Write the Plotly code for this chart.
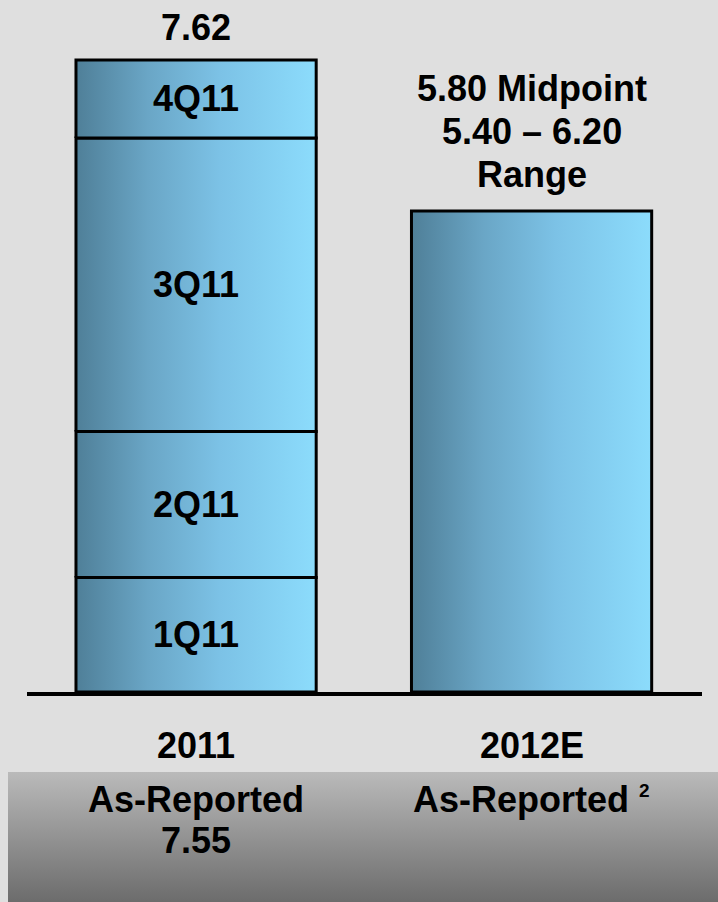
import plotly.graph_objects as go

# --- data -------------------------------------------------------------
categories = ["2011", "2012E"]
quarters = ["1Q11", "2Q11", "3Q11", "4Q11"]
quarter_values = [1.38, 1.76, 3.54, 0.94]          # stacks to 7.62
total_2011 = 7.62
midpoint_2012 = 5.80
range_2012 = [5.40, 6.20]
as_reported_2011 = 7.55

# --- styling ----------------------------------------------------------
FONT = "Liberation Sans, Arial, Helvetica, sans-serif"
BG = "#dfdfdf"
BAR_SCALE = [[0.0, "#4f7f98"], [0.3, "#6aa6c6"], [0.6, "#7cc2e6"], [1.0, "#8cdcfc"]]
BAND_SCALE = [[0.0, "#6c6c6c"], [1.0, "#bababa"]]
HALF_W = 0.358
TXT = dict(family=FONT, size=36, color="black", weight="bold")

fig = go.Figure()


def add_block(x_center, bottom, top):
    xs = [x_center - HALF_W, x_center + HALF_W, x_center + HALF_W,
          x_center - HALF_W, x_center - HALF_W]
    ys = [bottom, bottom, top, top, bottom]
    fig.add_trace(go.Scatter(
        x=xs, y=ys, mode="lines", fill="toself",
        fillgradient=dict(type="horizontal", colorscale=BAR_SCALE),
        line=dict(color="black", width=3),
        hoverinfo="skip", showlegend=False, xaxis="x", yaxis="y",
    ))


def label(x, y, text, xref="x", yref="y", yanchor="middle", yshift=0):
    fig.add_annotation(x=x, y=y, xref=xref, yref=yref, text=text,
                       showarrow=False, font=TXT, yanchor=yanchor, yshift=yshift)


# 2011: stacked quarterly blocks
base = 0.0
for name, val in zip(quarters, quarter_values):
    add_block(0, base, base + val)
    label(0, base + val / 2, name)
    base += val

# 2012E: single guidance bar at the midpoint
add_block(1, 0, midpoint_2012)

# value labels above the bars
label(0, total_2011, f"{total_2011:.2f}", yanchor="bottom", yshift=10)
guide_lines = [f"{midpoint_2012:.2f} Midpoint",
               f"{range_2012[0]:.2f} \u2013 {range_2012[1]:.2f}",
               "Range"]
for i, line in enumerate(reversed(guide_lines)):
    label(1, midpoint_2012, line, yanchor="bottom", yshift=14 + 43 * i)

# grey footer band (vertical gradient) on its own axes
fig.add_trace(go.Scatter(
    x=[0, 1, 1, 0, 0], y=[0, 0, 1, 1, 0], mode="lines", fill="toself",
    fillgradient=dict(type="vertical", colorscale=BAND_SCALE),
    line=dict(width=0), hoverinfo="skip", showlegend=False,
    xaxis="x2", yaxis="y2",
))

# category names and footnotes below the axis
for i, cat in enumerate(categories):
    label(i, 1 - 745 / 902, cat, yref="paper")
label(0, 1 - 799 / 902, "As-Reported", yref="paper")
label(0, 1 - 840 / 902, f"{as_reported_2011:.2f}", yref="paper")
label(1, 1 - 799 / 902,
      "As-Reported <sup><span style='font-size:19px'>2</span></sup>", yref="paper")

fig.update_layout(
    width=718, height=902,
    margin=dict(l=0, r=0, t=0, b=0),
    paper_bgcolor=BG, plot_bgcolor=BG,
    showlegend=False,
    xaxis=dict(domain=[27 / 718, 702 / 718], range=[-0.504, 1.508],
               showgrid=False, zeroline=False, showticklabels=False, ticks="",
               showline=True, linecolor="black", linewidth=3.5, fixedrange=True),
    yaxis=dict(domain=[210 / 902, 1], range=[0, 692 / 82.95], visible=False,
               fixedrange=True),
    xaxis2=dict(domain=[8 / 718, 1], range=[0, 1], visible=False, fixedrange=True,
                anchor="y2"),
    yaxis2=dict(domain=[0, 130 / 902], range=[0, 1], visible=False, fixedrange=True,
                anchor="x2"),
)

fig.write_html("out.html")
